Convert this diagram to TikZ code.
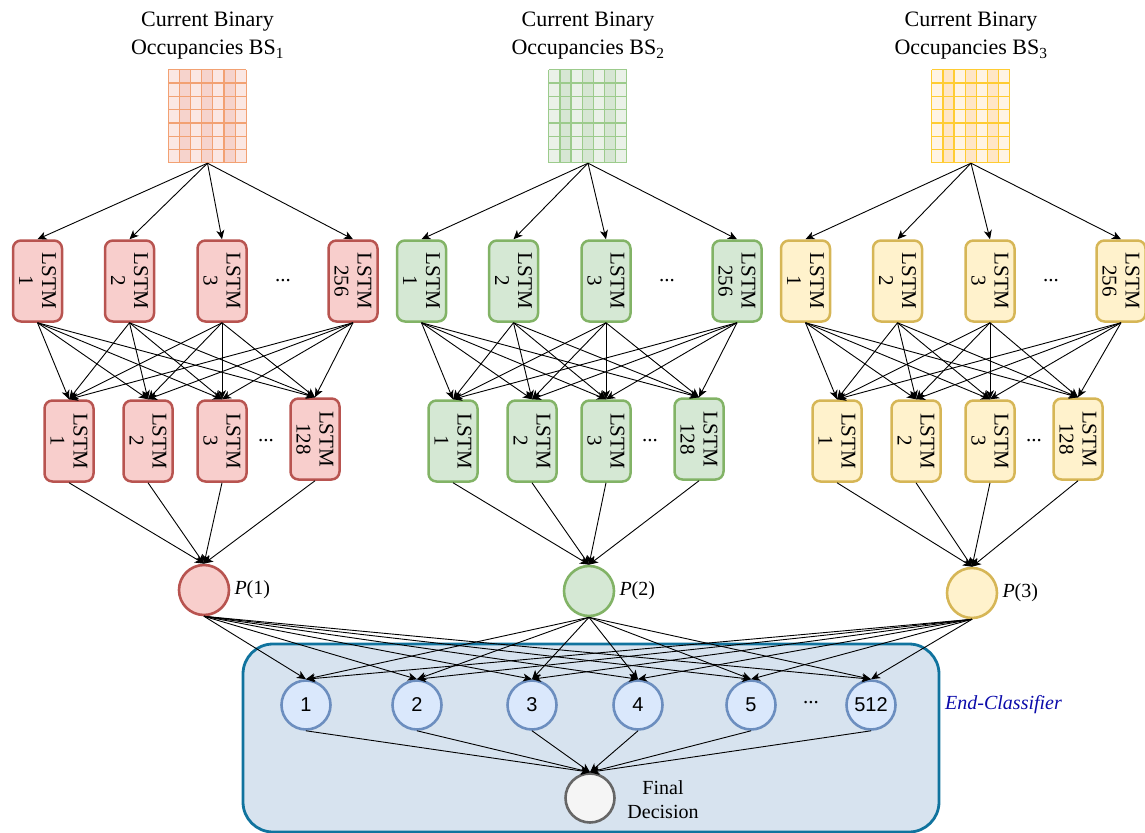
\documentclass[tikz,border=0pt]{standalone}
\usepackage{fontspec}
\setmainfont{Liberation Serif}
\newfontfamily\numfont{Liberation Sans}
\usetikzlibrary{arrows.meta,calc}

% fills and strokes of the three branches
\definecolor{redF}{HTML}{F8CECC}\definecolor{redD}{HTML}{B85450}
\definecolor{grnF}{HTML}{D5E8D4}\definecolor{grnD}{HTML}{82B366}
\definecolor{ylwF}{HTML}{FFF2CC}\definecolor{ylwD}{HTML}{D6B656}
% occupancy grids
\definecolor{gridRl}{HTML}{FBE7E3}\definecolor{gridRd}{HTML}{F6D3CC}\definecolor{gridRs}{HTML}{F2A173}
\definecolor{gridGl}{HTML}{EAF1E8}\definecolor{gridGd}{HTML}{D6E6D3}\definecolor{gridGs}{HTML}{9CCB8C}
\definecolor{gridYl}{HTML}{FFF4E4}\definecolor{gridYd}{HTML}{FFE6C6}\definecolor{gridYs}{HTML}{FFCC33}
% end classifier
\definecolor{bluF}{HTML}{DAE8FC}\definecolor{bluD}{HTML}{6C8EBF}
\definecolor{panF}{HTML}{D7E3EF}\definecolor{panD}{HTML}{10739E}
\definecolor{finF}{HTML}{F5F5F5}\definecolor{finD}{HTML}{666666}
\definecolor{ecText}{HTML}{0A0AAA}

\tikzset{
  arr/.style={line width=0.9pt, -{Stealth[length=9pt,width=8pt,inset=2.5pt]}},
  lstm/.style={rectangle, rounded corners=8pt, line width=2.5pt, minimum width=49, minimum height=81, inner sep=0pt},
  lstmtext/.style={rotate=-90, align=center, font=\fontsize{21}{23}\selectfont, inner sep=0pt},
  titletext/.style={align=center, font=\fontsize{22}{28}\selectfont, inner sep=0pt},
  pnode/.style={circle, line width=2.6pt, minimum size=50, inner sep=0pt},
  lbl/.style={font=\fontsize{20}{24}\selectfont, inner sep=0pt},
  dotsnode/.style={font=\fontsize{21}{24}\selectfont, inner sep=0pt},
  cnode/.style={circle, line width=2.6pt, draw=bluD, fill=bluF, minimum size=49, inner sep=0pt, font=\numfont\fontsize{20}{24}\selectfont},
  fnode/.style={circle, line width=2.6pt, draw=finD, fill=finF, minimum size=49, inner sep=0pt},
  panel/.style={rectangle, rounded corners=30pt, line width=2.8pt, draw=panD, fill=panF, inner sep=0pt},
  gridbox/.style={rectangle, minimum width=78, minimum height=93, inner sep=0pt},
}

\begin{document}
\begin{tikzpicture}[x=1pt,y=-1pt]
\clip (0,0) rectangle (1145,832);

% End-Classifier panel (background)
\node[panel, minimum width=696, minimum height=188] (panel) at (591,738) {};
\node[font=\fontsize{20}{24}\selectfont\itshape, text=ecText, anchor=west, inner sep=0pt] (ectitle) at (945,705) {End-Classifier};

% three identical branches
\foreach \g/\off/\gc/\pcx/\pcy/\fc/\dc/\gl/\gk/\gs/\lx in {
  1/0/207.5/204/590/redF/redD/gridRl/gridRd/gridRs/315,
  2/384/588/589/591/grnF/grnD/gridGl/gridGd/gridGs/699,
  3/768/971/972/593/ylwF/ylwD/gridYl/gridYd/gridYs/1078}{
  % title
  \node[titletext] (title\g) at (\gc,36) {Current Binary\\Occupancies BS\textsubscript{\g}};
  % occupancy grid
  \node[gridbox] (grid\g) at (\gc,116.5) {};
  \begin{scope}[shift={(grid\g.north west)}]
    \fill[\gl] (0,0) rectangle (78,93);
    \foreach \c in {1,3,5}
      \fill[\gk] ({\c*78/7},0) rectangle ({(\c+1)*78/7},93);
    \foreach \c in {0,...,7}
      \draw[\gs, line width=1.2pt] ({\c*78/7},0) -- ({\c*78/7},93);
    \foreach \r in {0,...,7}
      \draw[\gs, line width=1.2pt] (0,{\r*93/7}) -- (78,{\r*93/7});
  \end{scope}
  % first LSTM layer
  \foreach \i/\x/\lab in {1/37.5/1, 2/129.5/2, 3/222/3, 4/353/256}{
    \node[lstm, fill=\fc, draw=\dc] (a\g\i) at (\x+\off,281) {};
    \node[lstmtext] (ta\g\i) at (a\g\i) {LSTM\\\lab};
  }
  \node[dotsnode] (da\g) at (283+\off,281) {...};
  % second LSTM layer
  \foreach \i/\x/\y/\lab in {1/69/441/1, 2/148/441/2, 3/222/441/3, 4/\lx-\off/439/128}{
    \node[lstm, fill=\fc, draw=\dc] (b\g\i) at (\x+\off,\y) {};
    \node[lstmtext] (tb\g\i) at (b\g\i) {LSTM\\\lab};
  }
  \node[dotsnode] (db\g) at (266+\off,441) {...};
  % branch output
  \node[pnode, fill=\fc, draw=\dc] (p\g) at (\pcx,\pcy) {};
  \node[lbl, anchor=west] (pl\g) at ($(p\g.east)+(4,0)$) {\textit{P}(\g)};
  % connections
  \foreach \i in {1,...,4}
    \draw[arr] (grid\g.south) -- (a\g\i.north);
  \foreach \i in {1,...,4}
    \foreach \j in {1,...,4}
      \draw[arr] (a\g\i.south) -- (b\g\j.north);
  \foreach \j in {1,...,4}
    \draw[arr] (b\g\j.south) -- (p\g.north);
}

% end-classifier neurons
\foreach \k/\x/\lab in {1/306/1, 2/417/2, 3/532/3, 4/638/4, 5/751/5, 6/871/512}
  \node[cnode] (c\k) at (\x,705) {\lab};
\node[dotsnode] (cdots) at (811,703) {...};

% final decision
\node[fnode] (fin) at (590,798) {};
\node[lbl, align=center] (finlbl) at (663,800) {Final\\Decision};

\foreach \g in {1,2,3}
  \foreach \k in {1,...,6}
    \draw[arr] (p\g.south) -- (c\k.north);
\foreach \k in {1,...,6}
  \draw[arr] (c\k.south) -- (fin.north);
\end{tikzpicture}
\end{document}
